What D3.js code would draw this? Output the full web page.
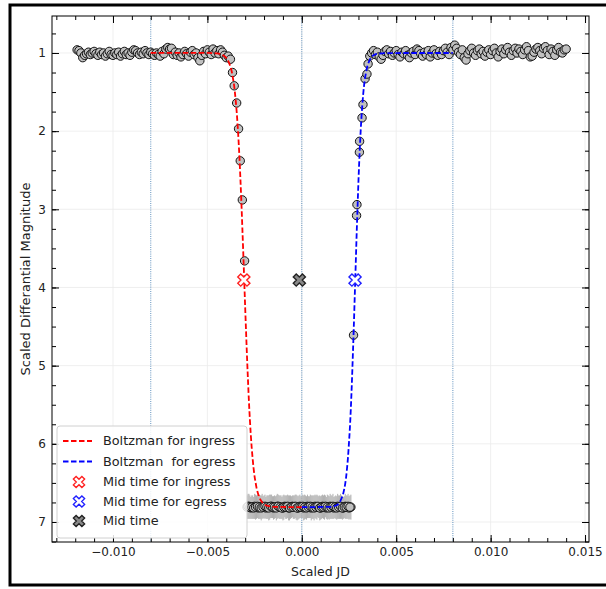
<!DOCTYPE html>
<html><head><meta charset="utf-8">
<script src="https://cdn.jsdelivr.net/npm/d3@7"></script>
<style>body{margin:0;background:#fff} text{font-family:"DejaVu Sans",sans-serif}</style>
</head><body><svg id="c" width="606" height="589"></svg>
<script>
// ---------- DATA ----------
const leftTime = [-0.0119,-0.0118,-0.0117,-0.0116,-0.0115,-0.0114,-0.0113,-0.0112,-0.0111,-0.0110,
 -0.0109,-0.0108,-0.0107,-0.0106,-0.0105,-0.0104,-0.0103,-0.0102,-0.0101,-0.0100,
 -0.0099,-0.0098,-0.0097,-0.0096,-0.0095,-0.0094,-0.0093,-0.0092,-0.0091,-0.0090,
 -0.0089,-0.0088,-0.0087,-0.0086,-0.0085,-0.0084,-0.0083,-0.0082,-0.0081,-0.0080,
 -0.0079,-0.0078,-0.0077,-0.0076,-0.0075,-0.0074,-0.0073,-0.0072,-0.0071,-0.0070,
 -0.0069,-0.0068,-0.0067,-0.0066,-0.0065,-0.0064,-0.0063,-0.0062,-0.0061,-0.0060,
 -0.0059,-0.0058,-0.0057,-0.0056,-0.0055,-0.0054,-0.0053,-0.0052,-0.0051,-0.0050,
 -0.0049,-0.0048,-0.0047,-0.0046,-0.0045,-0.0044,-0.0043,-0.0042,-0.0041,-0.0040,-0.0039];
const leftMag = [0.96,0.97,1.00,1.06,1.03,1.01,0.99,1.02,1.00,0.98,
 1.01,1.03,0.99,1.02,1.00,1.04,1.01,0.98,1.02,1.03,
 1.00,1.02,0.99,1.04,1.01,0.98,1.02,1.00,1.03,0.99,
 0.96,0.97,1.00,1.02,0.99,1.01,0.97,1.00,1.02,0.99,
 1.01,1.03,1.00,1.02,1.04,0.98,1.01,0.95,0.93,0.95,
 0.94,1.02,0.99,1.03,1.00,1.05,1.02,0.98,1.01,1.04,
 0.99,0.97,1.02,1.00,1.06,1.10,1.03,0.98,1.01,0.96,
 0.99,1.02,0.95,1.00,0.97,1.01,0.96,0.99,1.03,1.06,1.04];
const ingressTime = [-0.00378,-0.00367,-0.00358,-0.00345,-0.00335,-0.00326,-0.00315,-0.00303];
const ingressMag  = [1.08,1.25,1.42,1.64,1.97,2.38,2.88,3.66];
const bottomTime = [-0.0029,-0.0028,-0.0027,-0.0026,-0.0025,-0.0024,-0.0023,-0.0022,-0.0021,-0.0020,
 -0.0019,-0.0018,-0.0017,-0.0016,-0.0015,-0.0014,-0.0013,-0.0012,-0.0011,-0.0010,
 -0.0009,-0.0008,-0.0007,-0.0006,-0.0005,-0.0004,-0.0003,-0.0002,-0.0001,0.0000,
 0.0001,0.0002,0.0003,0.0004,0.0005,0.0006,0.0007,0.0008,0.0009,0.0010,
 0.0011,0.0012,0.0013,0.0014,0.0015,0.0016,0.0017,0.0018,0.0019,0.0020,
 0.0021,0.0022,0.0023,0.0024,0.0025,0.0026];
const bottomMag = [6.81,6.80,6.82,6.81,6.80,6.81,6.82,6.81,6.80,6.81,
 6.82,6.81,6.81,6.80,6.82,6.81,6.80,6.81,6.81,6.82,
 6.80,6.81,6.82,6.81,6.80,6.81,6.81,6.82,6.80,6.81,
 6.82,6.81,6.80,6.81,6.82,6.81,6.80,6.81,6.81,6.82,
 6.80,6.81,6.82,6.81,6.80,6.81,6.82,6.81,6.80,6.81,
 6.81,6.82,6.80,6.81,6.82,6.81];
const bottomErr = [0.15,0.16,0.14,0.15,0.16,0.15,0.14,0.15,0.16,0.15,
 0.14,0.15,0.16,0.15,0.15,0.14,0.16,0.15,0.15,0.16,
 0.14,0.15,0.16,0.15,0.14,0.15,0.16,0.15,0.15,0.14,
 0.16,0.15,0.15,0.14,0.16,0.15,0.15,0.16,0.14,0.15,
 0.15,0.16,0.14,0.15,0.16,0.15,0.14,0.15,0.16,0.15,
 0.15,0.14,0.16,0.15,0.15,0.16];
const bottom2Time = [-0.00285,-0.00275,-0.00265,-0.00255,-0.00245,-0.00235,-0.00225,-0.00215,-0.00205,-0.00195,
 -0.00185,-0.00175,-0.00165,-0.00155,-0.00145,-0.00135,-0.00125,-0.00115,-0.00105,-0.00095,
 -0.00085,-0.00075,-0.00065,-0.00055,-0.00045,-0.00035,-0.00025,-0.00015,-0.00005,0.00005,
 0.00015,0.00025,0.00035,0.00045,0.00055,0.00065,0.00075,0.00085,0.00095,0.00105,
 0.00115,0.00125,0.00135,0.00145,0.00155,0.00165,0.00175,0.00185,0.00195,0.00205,
 0.00215,0.00225,0.00235,0.00245,0.00255];
const bottom2Mag = [6.80,6.81,6.81,6.82,6.81,6.80,6.81,6.82,6.81,6.80,
 6.81,6.82,6.80,6.81,6.81,6.82,6.80,6.81,6.82,6.81,
 6.81,6.80,6.82,6.81,6.81,6.80,6.82,6.81,6.81,6.80,
 6.81,6.82,6.81,6.80,6.81,6.82,6.81,6.80,6.82,6.81,
 6.81,6.80,6.81,6.82,6.81,6.80,6.81,6.82,6.81,6.80,
 6.82,6.81,6.81,6.80,6.81];
const bottom2Err = [0.16,0.15,0.15,0.14,0.16,0.15,0.15,0.16,0.14,0.15,
 0.15,0.16,0.15,0.14,0.15,0.16,0.15,0.15,0.14,0.16,
 0.15,0.15,0.16,0.14,0.15,0.15,0.16,0.15,0.14,0.15,
 0.16,0.15,0.14,0.15,0.15,0.16,0.15,0.14,0.16,0.15,
 0.15,0.14,0.16,0.15,0.15,0.16,0.14,0.15,0.15,0.16,
 0.15,0.14,0.15,0.16,0.15];
const egressTime = [0.00274,0.00290,0.00292,0.00305,0.00306,0.00319,0.00324,0.00335,0.00345,0.00351];
const egressMag  = [4.61,3.08,2.94,2.27,2.13,1.83,1.66,1.33,1.27,1.14];
const rightTime = [0.0036,0.0037,0.0038,0.0039,0.0040,0.0041,0.0042,0.0043,0.0044,0.0045,
 0.0046,0.0047,0.0048,0.0049,0.0050,0.0051,0.0052,0.0053,0.0054,0.0055,
 0.0056,0.0057,0.0058,0.0059,0.0060,0.0061,0.0062,0.0063,0.0064,0.0065,
 0.0066,0.0067,0.0068,0.0069,0.0070,0.0071,0.0072,0.0073,0.0074,0.0075,
 0.0076,0.0077,0.0078,0.0079,0.0080,0.0081,0.0082,0.0083,0.0084,0.0085,
 0.0086,0.0087,0.0088,0.0089,0.0090,0.0091,0.0092,0.0093,0.0094,0.0095,
 0.0096,0.0097,0.0098,0.0099,0.0100,0.0101,0.0102,0.0103,0.0104,0.0105,
 0.0106,0.0107,0.0108,0.0109,0.0110,0.0111,0.0112,0.0113,0.0114,0.0115,
 0.0116,0.0117,0.0118,0.0119,0.0120,0.0121,0.0122,0.0123,0.0124,0.0125,
 0.0126,0.0127,0.0128,0.0129,0.0130,0.0131,0.0132,0.0133,0.0134,0.0135,
 0.0136,0.0137,0.0138,0.0139,0.0140];
const rightMag = [1.04,1.00,0.97,1.02,0.99,1.05,1.08,1.03,0.98,0.96,
 1.01,0.98,1.03,1.00,0.97,1.02,1.05,0.99,1.01,0.97,
 1.03,1.06,1.00,0.98,1.02,0.95,0.97,1.01,1.04,0.99,
 1.02,0.97,1.05,1.00,0.96,1.01,1.03,0.98,1.02,0.97,
 0.94,0.99,1.02,0.93,0.96,0.90,0.94,0.99,1.02,0.96,
 1.06,1.09,1.01,0.97,0.94,1.00,1.03,0.97,0.95,1.01,
 0.98,1.04,0.99,0.96,1.02,0.97,0.94,1.00,1.05,0.98,
 0.95,1.01,0.96,0.93,0.99,1.03,0.97,0.94,1.00,0.95,
 0.98,1.02,0.96,0.92,0.97,1.05,1.04,0.99,0.95,0.93,
 0.97,1.01,0.94,0.92,0.97,1.02,0.95,0.98,1.03,0.96,
 0.93,0.99,1.00,0.96,0.95];
// Boltzmann fits
const fitInTime = [-0.0080,-0.0050,-0.0045,-0.0042,-0.0040,-0.0039,-0.0038,-0.00375,-0.0037,-0.00365,-0.0036,-0.00355,-0.0035,-0.00345,-0.0034,-0.00335,-0.0033,-0.00325,-0.0032,-0.00315,-0.0031,-0.00305,-0.0030,-0.00295,-0.0029,-0.00285,-0.0028,-0.00275,-0.0027,-0.00265,-0.0026,-0.00255,-0.0025,-0.00245,-0.0024,-0.00235,-0.0023,-0.0022,-0.0020,-0.0018,-0.0015,0.0000];
const fitInMag  = [1.000,1.000,1.006,1.024,1.063,1.10,1.16,1.20,1.25,1.32,1.39,1.49,1.61,1.75,1.92,2.12,2.35,2.62,2.91,3.23,3.56,3.905,4.25,4.58,4.90,5.19,5.46,5.69,5.89,6.06,6.20,6.32,6.42,6.49,6.56,6.61,6.65,6.71,6.77,6.795,6.806,6.81];
const fitEgTime = [0.0000,0.0015,0.0018,0.0020,0.0021,0.0022,0.00225,0.0023,0.00235,0.0024,0.00245,0.0025,0.00255,0.0026,0.00265,0.0027,0.00275,0.0028,0.00285,0.0029,0.00295,0.0030,0.00305,0.0031,0.00315,0.0032,0.00325,0.0033,0.00335,0.0034,0.00345,0.0035,0.0036,0.0037,0.0038,0.0040,0.0045,0.0080];
const fitEgMag  = [6.81,6.806,6.789,6.75,6.70,6.63,6.575,6.51,6.42,6.30,6.16,5.98,5.78,5.53,5.23,4.89,4.53,4.14,3.75,3.35,2.99,2.64,2.34,2.08,1.86,1.68,1.53,1.41,1.32,1.25,1.19,1.15,1.087,1.05,1.029,1.010,1.001,1.000];
const midIngress = [-0.00307, 3.905];
const midEgress  = [0.00282, 3.905];
const midTime    = [-0.00013, 3.905];
const vLines = [-0.008, 0.000, 0.008];
const xTicks = [-0.010,-0.005,0.000,0.005,0.010,0.015];
const yTicks = [1,2,3,4,5,6,7];
const xMinor = d3.range(-13,16).map(d=>d/1000);
const yMinor = d3.range(3,30).map(d=>d/4);
const legendLabels = ["Boltzman for ingress","Boltzman  for egress","Mid time for ingress","Mid time for egress","Mid time"];

// ---------- CHART ----------
const svg = d3.select("#c");
const L=52,R=589,T=16,B=542;
const x = d3.scaleLinear().domain([-0.01323,0.01521]).range([L,R]);
const y = d3.scaleLinear().domain([0.527,7.256]).range([T,B]);

// outer frame
svg.append("rect").attr("x",10).attr("y",5).attr("width",640).attr("height",580)
  .attr("fill","none").attr("stroke","#000").attr("stroke-width",3);

// grid
const g = svg.append("g");
g.selectAll(".gx").data(xTicks).join("line").attr("x1",d=>x(d)).attr("x2",d=>x(d)).attr("y1",T).attr("y2",B)
  .attr("stroke","#ebebeb").attr("stroke-width",0.8);
g.selectAll(".gy").data(yTicks).join("line").attr("y1",d=>y(d)).attr("y2",d=>y(d)).attr("x1",L).attr("x2",R)
  .attr("stroke","#ebebeb").attr("stroke-width",0.8);
// vertical dotted
g.selectAll(".vl").data(vLines).join("line").attr("x1",d=>x(d)).attr("x2",d=>x(d)).attr("y1",T).attr("y2",B)
  .attr("stroke","#4f86b8").attr("stroke-width",0.9).attr("stroke-dasharray","1,1.2");

// error bars
const bottom = bottomTime.map((t,i)=>({t,m:bottomMag[i],e:bottomErr[i]}))
  .concat(bottom2Time.map((t,i)=>({t,m:bottom2Mag[i],e:bottom2Err[i]})));
g.selectAll(".eb").data(bottom).join("line").attr("x1",d=>x(d.t)).attr("x2",d=>x(d.t))
  .attr("y1",d=>y(d.m-d.e)).attr("y2",d=>y(d.m+d.e)).attr("stroke","#b0b0b0").attr("stroke-width",1);

// points
const pts = [];
leftTime.forEach((t,i)=>pts.push([t,leftMag[i]]));
ingressTime.forEach((t,i)=>pts.push([t,ingressMag[i]]));
bottomTime.forEach((t,i)=>pts.push([t,bottomMag[i]]));
bottom2Time.forEach((t,i)=>pts.push([t,bottom2Mag[i]]));
egressTime.forEach((t,i)=>pts.push([t,egressMag[i]]));
rightTime.forEach((t,i)=>pts.push([t,rightMag[i]]));
g.selectAll(".pt").data(pts).join("circle").attr("cx",d=>x(d[0])).attr("cy",d=>y(d[1])).attr("r",4.2)
  .attr("fill","#c0c0c0").attr("stroke","#111").attr("stroke-width",1);

// fit lines
const line = d3.line().x(d=>x(d[0])).y(d=>y(d[1])).curve(d3.curveMonotoneX);
g.append("path").attr("d",line(fitInTime.map((t,i)=>[t,fitInMag[i]]))).attr("fill","none")
  .attr("stroke","#ff0000").attr("stroke-width",1.8).attr("stroke-dasharray","5.5,2.5");
g.append("path").attr("d",line(fitEgTime.map((t,i)=>[t,fitEgMag[i]]))).attr("fill","none")
  .attr("stroke","#0000ff").attr("stroke-width",1.8).attr("stroke-dasharray","5.5,2.5");

// X marker path
function xPath(r){
  const w=0.32, p=[[w,w],[w,1],[-w,1],[-w,w],[-1,w],[-1,-w],[-w,-w],[-w,-1],[w,-1],[w,-w],[1,-w],[1,w]];
  const c=Math.SQRT1_2;
  return "M"+p.map(([a,b])=>[(a*c-b*c)*r,(a*c+b*c)*r].map(v=>v.toFixed(2)).join(",")).join("L")+"Z";
}
const mids = [[midIngress,"#ff2020","#fff"],[midEgress,"#2020ff","#fff"],[midTime,"#222","#888"]];
g.selectAll(".mx").data(mids).join("path").attr("d",xPath(6.5))
  .attr("transform",d=>`translate(${x(d[0][0])},${y(d[0][1])})`)
  .attr("fill",d=>d[2]).attr("stroke",d=>d[1]).attr("stroke-width",1.4);

// axes
const fmt = d3.format(".3f");
const ax = svg.append("g");
function styleAxis(sel){ sel.attr("font-size",12).attr("font-family","DejaVu Sans"); sel.select(".domain").remove(); sel.selectAll("text").attr("fill","#222"); sel.selectAll("line").attr("stroke","#000"); }
ax.append("g").attr("transform",`translate(0,${B})`).call(d3.axisBottom(x).tickValues(xTicks).tickFormat(fmt).tickSize(-7).tickPadding(5)).call(styleAxis);
ax.append("g").attr("transform",`translate(0,${B})`).call(d3.axisBottom(x).tickValues(xMinor).tickFormat("").tickSize(-4)).call(styleAxis);
ax.append("g").attr("transform",`translate(0,${T})`).call(d3.axisTop(x).tickValues(xTicks).tickFormat("").tickSize(-7)).call(styleAxis);
ax.append("g").attr("transform",`translate(0,${T})`).call(d3.axisTop(x).tickValues(xMinor).tickFormat("").tickSize(-4)).call(styleAxis);
ax.append("g").attr("transform",`translate(${L},0)`).call(d3.axisLeft(y).tickValues(yTicks).tickFormat(d3.format("d")).tickSize(-7).tickPadding(6)).call(styleAxis);
ax.append("g").attr("transform",`translate(${L},0)`).call(d3.axisLeft(y).tickValues(yMinor).tickFormat("").tickSize(-4)).call(styleAxis);
ax.append("g").attr("transform",`translate(${R},0)`).call(d3.axisRight(y).tickValues(yTicks).tickFormat("").tickSize(-7)).call(styleAxis);
ax.append("g").attr("transform",`translate(${R},0)`).call(d3.axisRight(y).tickValues(yMinor).tickFormat("").tickSize(-4)).call(styleAxis);
svg.append("rect").attr("x",L).attr("y",T).attr("width",R-L).attr("height",B-T).attr("fill","none").attr("stroke","#000").attr("stroke-width",1);

svg.append("text").attr("x",(L+R)/2).attr("y",576).attr("text-anchor","middle").attr("font-size",12.5).attr("fill","#222").text("Scaled JD");
svg.append("text").attr("transform",`translate(30,${(T+B)/2}) rotate(-90)`).attr("text-anchor","middle").attr("font-size",13).attr("fill","#222").text("Scaled Differantial Magnitude");

// legend
const lg = svg.append("g");
lg.append("rect").attr("x",57).attr("y",426).attr("width",190).attr("height",112).attr("rx",3)
  .attr("fill","#fff").attr("fill-opacity",0.85).attr("stroke","#d0d0d0").attr("stroke-width",1);
const rowY = [441,461.5,482,501.5,521];
const lineCols = ["#ff0000","#0000ff"];
lineCols.forEach((c,i)=>lg.append("line").attr("x1",63).attr("x2",92).attr("y1",rowY[i]).attr("y2",rowY[i])
  .attr("stroke",c).attr("stroke-width",1.8).attr("stroke-dasharray","5.5,2.5"));
mids.forEach((d,i)=>lg.append("path").attr("d",xPath(6)).attr("transform",`translate(79,${rowY[i+2]})`)
  .attr("fill",d[2]).attr("stroke",d[1]).attr("stroke-width",1.4));
legendLabels.forEach((t,i)=>lg.append("text").attr("x",103).attr("y",rowY[i]).attr("dy","0.35em")
  .attr("font-size",12.8).attr("fill","#222").attr("xml:space","preserve").style("white-space","pre").text(t));
</script></body></html>
